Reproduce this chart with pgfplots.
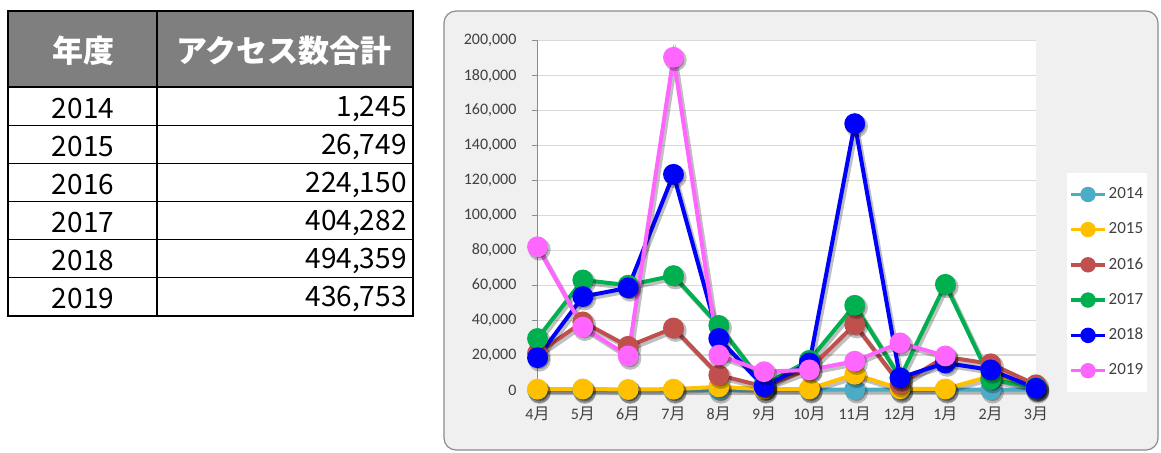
\documentclass[border=0pt]{standalone}
\usepackage{fontspec}
\setmainfont{Carlito}
\newfontfamily\cjk{Noto Sans CJK JP}
\usepackage{pgfplots}
\pgfplotsset{compat=1.18}
\usepackage{pgfplotstable}
\definecolor{c14}{HTML}{4BACC6}
\definecolor{c15}{HTML}{FFC000}
\definecolor{c16}{HTML}{C0504D}
\definecolor{c17}{HTML}{00B050}
\definecolor{c18}{HTML}{0000FF}
\definecolor{c19}{HTML}{FF66FF}
\definecolor{hdr}{HTML}{7F7F7F}
\definecolor{chartbg}{HTML}{F0F0F0}
\definecolor{framec}{HTML}{8C8C8C}
\definecolor{gridc}{HTML}{D9D9D9}
\definecolor{axisc}{HTML}{8C8C8C}
\definecolor{labc}{HTML}{404040}
\newcommand\tsuki{{\cjk 月}}

\pgfplotstableread{
x y14 y15 y16 y17 y18
0 0 500 21000 29500 18500
1 0 600 39000 63000 53500
2 0 300 25000 60000 58500
3 0 500 35500 65500 123500
4 100 1800 8500 37000 29500
5 100 500 2000 3000 2000
6 150 600 12000 17000 15500
7 250 9000 37500 48500 152500
8 150 700 3500 7000 7000
9 150 600 19000 60500 15500
10 200 8000 15000 6000 11500
11 150 1000 3000 1500 1000
}\datatab
\pgfplotstableread{
x y19
0 82000
1 36000
2 19500
3 190500
4 20000
5 10500
6 11500
7 16500
8 27000
9 19500
}\datatabb

\begin{document}
\begin{tikzpicture}
\useasboundingbox (0,0) rectangle (580.5pt,-226pt);
\begin{scope}[x=0.5pt,y=-0.5pt]
  % table
  \fill[hdr] (8,11) rectangle (413,87);
  \foreach \yy in {87,125.7,163.7,201.7,239.3,277.3}
    \draw[line width=0.75pt] (8,\yy) -- (413,\yy);
  \draw[line width=0.75pt] (157,11) -- (157,316);
  \draw[line width=1pt] (8,11) rectangle (413,316);
  \begin{scope}[every node/.style={font=\cjk\fontsize{14}{15}\selectfont, inner sep=0pt}]
    \node[white,font=\cjk\bfseries\fontsize{15.5}{16}\selectfont] at (83,51) {年度};
    \node[white,font=\cjk\bfseries\fontsize{15.5}{16}\selectfont] at (284,51) {アクセス数合計};
    \node at (83,109) {2014}; \node[anchor=east] at (407,109) {1,245};
    \node at (83,147) {2015}; \node[anchor=east] at (407,147) {26,749};
    \node at (83,185) {2016}; \node[anchor=east] at (407,185) {224,150};
    \node at (83,223) {2017}; \node[anchor=east] at (407,223) {404,282};
    \node at (83,261) {2018}; \node[anchor=east] at (407,261) {494,359};
    \node at (83,299) {2019}; \node[anchor=east] at (407,299) {436,753};
  \end{scope}
  % chart frame
  \draw[rounded corners=6pt, draw=framec, fill=chartbg, line width=0.6pt] (444,11) rectangle (1158,450);
\end{scope}

\begin{axis}[
  at={(268.75pt,-195pt)}, anchor=south west,
  scale only axis, width=249.25pt, height=174.65pt,
  xmin=0, xmax=11, ymin=0, ymax=200000,
  xtick={0,...,11},
  xticklabels={4\tsuki,5\tsuki,6\tsuki,7\tsuki,8\tsuki,9\tsuki,10\tsuki,11\tsuki,12\tsuki,1\tsuki,2\tsuki,3\tsuki},
  ytick={0,20000,...,200000},
  scaled y ticks=false,
  yticklabel style={/pgf/number format/fixed, /pgf/number format/1000 sep={,}, xshift=-4pt},
  xticklabel style={yshift=-2pt},
  /pgf/number format/assume math mode=true,
  tick label style={font=\fontsize{8}{9}\selectfont, text=labc},
  ymajorgrids, grid style={draw=gridc, line width=0.6pt},
  axis x line*=bottom, axis y line*=left,
  x axis line style={draw=gridc, line width=0.6pt},
  y axis line style={draw=axisc, line width=0.6pt},
  tick align=outside, major tick length=3pt,
  xtick style={draw=none}, ytick style={draw=axisc, line width=0.6pt},
  axis background/.style={fill=white},
  clip=false,
  legend style={at={(1.062,0.621)}, anchor=north west, draw=none, fill=white,
    font=\fontsize{8.5}{9}\selectfont, text=labc, row sep=6.5pt, inner xsep=1pt, inner ysep=5pt,
    nodes={inner xsep=1pt}},
  legend cell align=left,
  legend image code/.code={\draw[mark repeat=2,mark phase=2,#1,line width=1.7pt,mark size=3pt] plot coordinates {(0pt,0pt) (8.5pt,0pt) (17pt,0pt)};},
  shadow/.style={black, opacity=0.25, line width=2.4pt, mark=*, mark size=4.4pt, xshift=1pt, yshift=-1.3pt, forget plot},
  ser/.style={color=#1, line width=2pt, mark=*, mark size=4.2pt, mark options={solid}},
]
\addplot[shadow] table[x=x,y=y14] {\datatab};
\addplot[ser=c14] table[x=x,y=y14] {\datatab}; \addlegendentry{2014}
\addplot[shadow] table[x=x,y=y15] {\datatab};
\addplot[ser=c15] table[x=x,y=y15] {\datatab}; \addlegendentry{2015}
\addplot[shadow] table[x=x,y=y16] {\datatab};
\addplot[ser=c16] table[x=x,y=y16] {\datatab}; \addlegendentry{2016}
\addplot[shadow] table[x=x,y=y17] {\datatab};
\addplot[ser=c17] table[x=x,y=y17] {\datatab}; \addlegendentry{2017}
\addplot[shadow] table[x=x,y=y18] {\datatab};
\addplot[ser=c18] table[x=x,y=y18] {\datatab}; \addlegendentry{2018}
\addplot[shadow] table[x=x,y=y19] {\datatabb};
\addplot[ser=c19] table[x=x,y=y19] {\datatabb}; \addlegendentry{2019}
\end{axis}
\end{tikzpicture}
\end{document}
